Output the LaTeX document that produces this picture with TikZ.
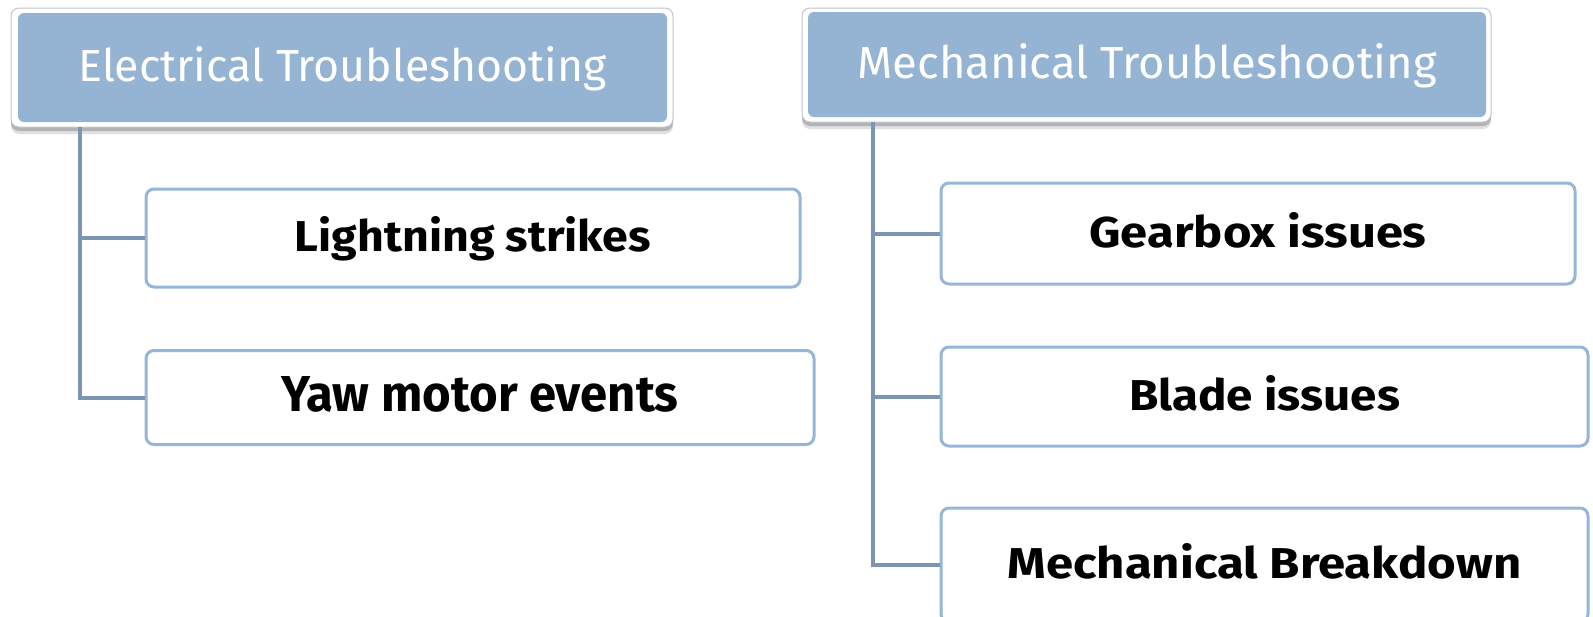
\documentclass[tikz,border=0pt]{standalone}
\usepackage{fontspec}
\setmainfont{Fira Sans}
\usetikzlibrary{shadows}
\definecolor{hdrblue}{RGB}{149,179,210}
\definecolor{boxblue}{RGB}{149,182,214}
\definecolor{linkc}{RGB}{124,150,178}
\definecolor{hdredge}{RGB}{188,198,212}
\newcommand{\fitw}[2]{\resizebox{#1}{35pt}{#2}}
\begin{document}
\begin{tikzpicture}[x=1pt,y=-1pt,
  hdrouter/.style={draw=hdredge, line width=1pt, fill=white, rounded corners=8pt,
    drop shadow={shadow xshift=0pt, shadow yshift=-7pt, opacity=0.12, fill=black},
    drop shadow={shadow xshift=0pt, shadow yshift=-4pt, opacity=0.2, fill=black}},
  hdrinner/.style={fill=hdrblue, rounded corners=6pt, text=white,
    text height=34pt, text depth=7pt, inner sep=0pt},
  itembox/.style={draw=boxblue, line width=3pt, fill=white, rounded corners=8pt,
    text=black, font=\bfseries, text height=34pt, text depth=7pt, inner sep=0pt},
  link/.style={draw=linkc, line width=4pt}]
\useasboundingbox (0,0) rectangle (1593,616);
\clip (0,0) rectangle (1593,616);
\fill[white] (0,0) rectangle (1593,616);

% headers
\node[hdrouter, minimum width=662pt, minimum height=119pt] (eho) at (342,67.5) {};
\node[hdrinner, minimum width=649pt, minimum height=109pt] (eh) at (342.5,67.5)
  {\fitw{528pt}{Electrical Troubleshooting}};
\node[hdrouter, minimum width=689pt, minimum height=114pt] (mho) at (1146.5,65) {};
\node[hdrinner, minimum width=678pt, minimum height=105pt] (mh) at (1147,64.5)
  {\fitw{579pt}{Mechanical Troubleshooting}};

% connector roots
\coordinate (et) at (80,127);
\coordinate (mt) at (873,122);

% items
\node[itembox, minimum width=654pt, minimum height=98pt] (l1) at (473,238)
  {\fitw{356pt}{Lightning strikes}};
\node[itembox, minimum width=668pt, minimum height=94pt] (y1) at (480,397.5)
  {\fitw{397pt}{Yaw motor events}};
\node[itembox, minimum width=634pt, minimum height=101pt] (g1) at (1258,233.5)
  {\fitw{337pt}{Gearbox issues}};
\node[itembox, minimum width=647pt, minimum height=99pt] (b1) at (1264.5,396.5)
  {\fitw{271pt}{Blade issues}};
\node[itembox, minimum width=647pt, minimum height=114pt] (m1) at (1264.5,565)
  {\fitw{514pt}{Mechanical Breakdown}};

% connectors
\draw[link] (et) |- (l1.west);
\draw[link] (et) |- (y1.west);
\draw[link] (mt) |- (g1.west);
\draw[link] (mt) |- (b1.west);
\draw[link] (mt) |- (m1.west);
\end{tikzpicture}
\end{document}
